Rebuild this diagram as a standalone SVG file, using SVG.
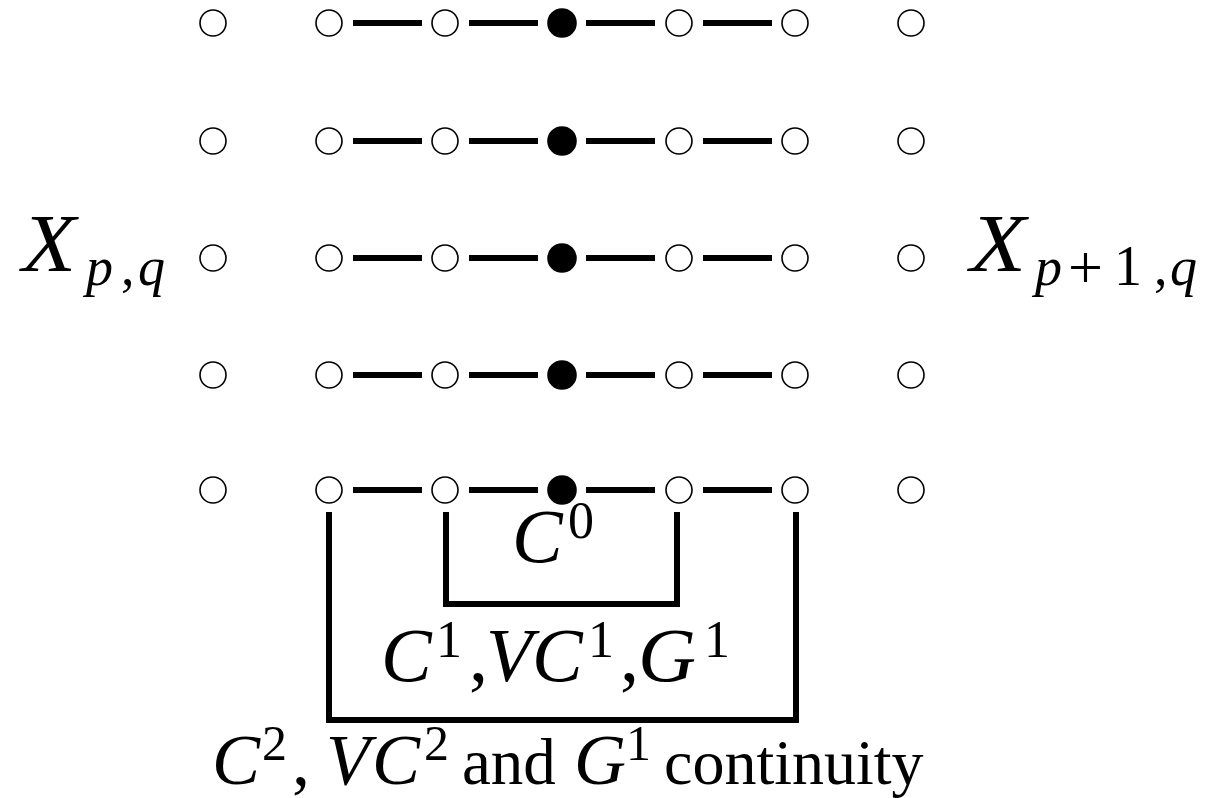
<svg xmlns="http://www.w3.org/2000/svg" width="1205" height="798" viewBox="0 0 1205 798">
  <style>
    .pt { fill: #fff; stroke: #000; stroke-width: 1.6; }
    .pt.on { fill: #000; }
    .link { stroke: #000; stroke-width: 6; fill: none; }
    .bracket { stroke: #000; stroke-width: 6; fill: none; stroke-linecap: butt; stroke-linejoin: miter; }
    .math { font-family: "Liberation Serif", "DejaVu Serif", serif; font-style: italic; fill: #000; }
    .up { font-style: normal; }
  </style>
  <defs>
    <circle id="open" r="13" class="pt"/>
    <circle id="full" r="14" class="pt on"/>
  </defs>

  <!-- control-point grid: 5 rows x 7 columns -->
  <g id="connectors">
    <g id="links-row1" transform="translate(0,23)">
      <line class="link" x1="353" y1="0" x2="422" y2="0"/>
      <line class="link" x1="469" y1="0" x2="538" y2="0"/>
      <line class="link" x1="586" y1="0" x2="655" y2="0"/>
      <line class="link" x1="703" y1="0" x2="772" y2="0"/>
    </g>
    <g id="links-row2" transform="translate(0,141)">
      <line class="link" x1="353" y1="0" x2="422" y2="0"/>
      <line class="link" x1="469" y1="0" x2="538" y2="0"/>
      <line class="link" x1="586" y1="0" x2="655" y2="0"/>
      <line class="link" x1="703" y1="0" x2="772" y2="0"/>
    </g>
    <g id="links-row3" transform="translate(0,258)">
      <line class="link" x1="353" y1="0" x2="422" y2="0"/>
      <line class="link" x1="469" y1="0" x2="538" y2="0"/>
      <line class="link" x1="586" y1="0" x2="655" y2="0"/>
      <line class="link" x1="703" y1="0" x2="772" y2="0"/>
    </g>
    <g id="links-row4" transform="translate(0,375)">
      <line class="link" x1="353" y1="0" x2="422" y2="0"/>
      <line class="link" x1="469" y1="0" x2="538" y2="0"/>
      <line class="link" x1="586" y1="0" x2="655" y2="0"/>
      <line class="link" x1="703" y1="0" x2="772" y2="0"/>
    </g>
    <g id="links-row5" transform="translate(0,490)">
      <line class="link" x1="353" y1="0" x2="422" y2="0"/>
      <line class="link" x1="469" y1="0" x2="538" y2="0"/>
      <line class="link" x1="586" y1="0" x2="655" y2="0"/>
      <line class="link" x1="703" y1="0" x2="772" y2="0"/>
    </g>
    <!-- continuity brackets -->
    <polyline id="bracket-c1" class="bracket" points="446,512 446,604 677,604 677,512"/>
    <polyline id="bracket-c2" class="bracket" points="329,512 329,720 796,720 796,512"/>
  </g>

  <g id="row1" transform="translate(0,23)">
    <use href="#open" x="213"/><use href="#open" x="329"/><use href="#open" x="445"/>
    <use href="#full" x="562"/>
    <use href="#open" x="679"/><use href="#open" x="795"/><use href="#open" x="911"/>
  </g>
  <g id="row2" transform="translate(0,141)">
    <use href="#open" x="213"/><use href="#open" x="329"/><use href="#open" x="445"/>
    <use href="#full" x="562"/>
    <use href="#open" x="679"/><use href="#open" x="795"/><use href="#open" x="911"/>
  </g>
  <g id="row3" transform="translate(0,258)">
    <use href="#open" x="213"/><use href="#open" x="329"/><use href="#open" x="445"/>
    <use href="#full" x="562"/>
    <use href="#open" x="679"/><use href="#open" x="795"/><use href="#open" x="911"/>
  </g>
  <g id="row4" transform="translate(0,375)">
    <use href="#open" x="213"/><use href="#open" x="329"/><use href="#open" x="445"/>
    <use href="#full" x="562"/>
    <use href="#open" x="679"/><use href="#open" x="795"/><use href="#open" x="911"/>
  </g>
  <g id="row5" transform="translate(0,490)">
    <use href="#open" x="213"/><use href="#open" x="329"/><use href="#open" x="445"/>
    <use href="#full" x="562"/>
    <use href="#open" x="679"/><use href="#open" x="795"/><use href="#open" x="911"/>
  </g>

  <!-- patch labels -->
  <g id="label-left">
    <text class="math" y="271" font-size="82"><tspan x="22" textLength="54" lengthAdjust="spacingAndGlyphs">X</tspan><tspan font-size="54" x="86" y="285">p</tspan><tspan class="up" font-size="54" x="121">,</tspan><tspan font-size="54" x="138">q</tspan></text>
  </g>
  <g id="label-right">
    <text class="math" y="271" font-size="82"><tspan x="970" textLength="56" lengthAdjust="spacingAndGlyphs">X</tspan><tspan font-size="54" x="1035" y="285">p</tspan><tspan class="up" font-size="62" x="1068" y="288">+</tspan><tspan class="up" font-size="56" x="1114" y="285">1</tspan><tspan class="up" font-size="54" x="1154">,</tspan><tspan font-size="54" x="1170">q</tspan></text>
  </g>

  <!-- continuity labels -->
  <g id="label-c0">
    <text class="math" x="512" y="562" font-size="76">C<tspan class="up" font-size="52" x="568" y="538">0</tspan></text>
  </g>
  <g id="label-c1">
    <text class="math" y="681" font-size="76"><tspan x="381">C</tspan><tspan class="up" font-size="52" x="436" y="657">1</tspan><tspan class="up" x="469" y="681">,</tspan><tspan x="486">V</tspan><tspan x="532">C</tspan><tspan class="up" font-size="52" x="588" y="657">1</tspan><tspan class="up" x="620" y="681">,</tspan><tspan x="638" textLength="58" lengthAdjust="spacingAndGlyphs">G</tspan><tspan class="up" font-size="52" x="704" y="657">1</tspan></text>
  </g>
  <g id="label-c2">
    <text class="math" y="784" font-size="72"><tspan x="212">C</tspan><tspan class="up" font-size="50" x="262" y="760">2</tspan><tspan class="up" x="292" y="784">,</tspan><tspan x="326">V</tspan><tspan x="372">C</tspan><tspan class="up" font-size="50" x="424" y="760">2</tspan><tspan class="up" font-size="65" x="462" y="784">and</tspan><tspan x="574">G</tspan><tspan class="up" font-size="50" x="626" y="760">1</tspan><tspan class="up" font-size="64" x="664" y="784">continuity</tspan></text>
  </g>
</svg>
